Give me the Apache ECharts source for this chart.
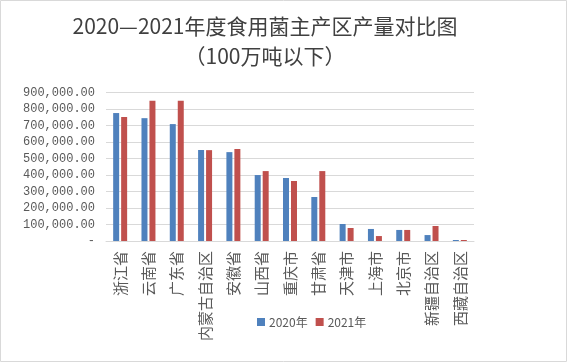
<!DOCTYPE html>
<html><head><meta charset="utf-8">
<script src="https://cdn.jsdelivr.net/npm/echarts@6/dist/echarts.min.js"></script>
<style>html,body{margin:0;padding:0;background:#fff}#c{width:567px;height:362px}</style>
</head><body><div id="c"></div>
<script>
const categories = ['浙江省','云南省','广东省','内蒙古自治区','安徽省','山西省','重庆市','甘肃省','天津市','上海市','北京市','新疆自治区','西藏自治区'];
const seriesNames = ['2020年','2021年'];
const values2020 = [776000, 745000, 709000, 552000, 539000, 400000, 382000, 267000, 103000, 73000, 67000, 36000, 6000];
const values2021 = [752000, 850000, 850000, 551000, 558000, 424000, 364000, 424000, 79000, 30000, 67000, 91000, 6000];
const yMin = 0, yMax = 900000, yStep = 100000;

const chart = echarts.init(document.getElementById('c'));
chart.setOption({
  animation: false,
  color: ['#4F81BD', '#C0504D'],
  title: {
    text: '2020—2021年度食用菌主产区产量对比图\n（100万吨以下）',
    left: 260, top: 6, textAlign: 'center',
    textStyle: { fontFamily: 'Noto Sans CJK SC', fontSize: 21, fontWeight: 'normal', color: '#404040', lineHeight: 30 }
  },
  graphic: [{ type: 'rect', shape: { x: 0.5, y: 0.5, width: 566, height: 361 }, style: { fill: 'none', stroke: '#d9d9d9', lineWidth: 1 }, silent: true }],
  legend: {
    data: seriesNames, left: 252, top: 311, itemWidth: 8, itemHeight: 8, itemGap: 8,
    icon: 'rect',
    textStyle: { fontFamily: 'Noto Sans CJK SC', fontSize: 12, color: '#595959', padding: [0,0,0,-1] }
  },
  grid: { left: 106, right: 93, top: 92.6, height: 148.4, containLabel: false },
  xAxis: {
    type: 'category', data: categories,
    axisLine: { lineStyle: { color: '#d9d9d9' } },
    axisTick: { show: false },
    axisLabel: {
      interval: 0, margin: 10, rotate: 90, color: '#595959', fontFamily: 'Noto Sans CJK SC', fontSize: 15
    }
  },
  yAxis: {
    type: 'value', min: yMin, max: yMax, interval: yStep,
    axisLine: { show: false }, axisTick: { show: false },
    splitLine: { lineStyle: { color: '#d9d9d9' } },
    axisLabel: {
      margin: 11, color: '#595959', fontFamily: 'Liberation Mono', fontSize: 12,
      formatter: v => v === 0 ? '-' : v.toLocaleString('en-US', { minimumFractionDigits: 2, maximumFractionDigits: 2 })
    }
  },
  series: [
    { name: seriesNames[0], type: 'bar', data: values2020, barWidth: 6, barGap: '33%' },
    { name: seriesNames[1], type: 'bar', data: values2021, barWidth: 6, barGap: '33%' }
  ]
});
</script></body></html>
